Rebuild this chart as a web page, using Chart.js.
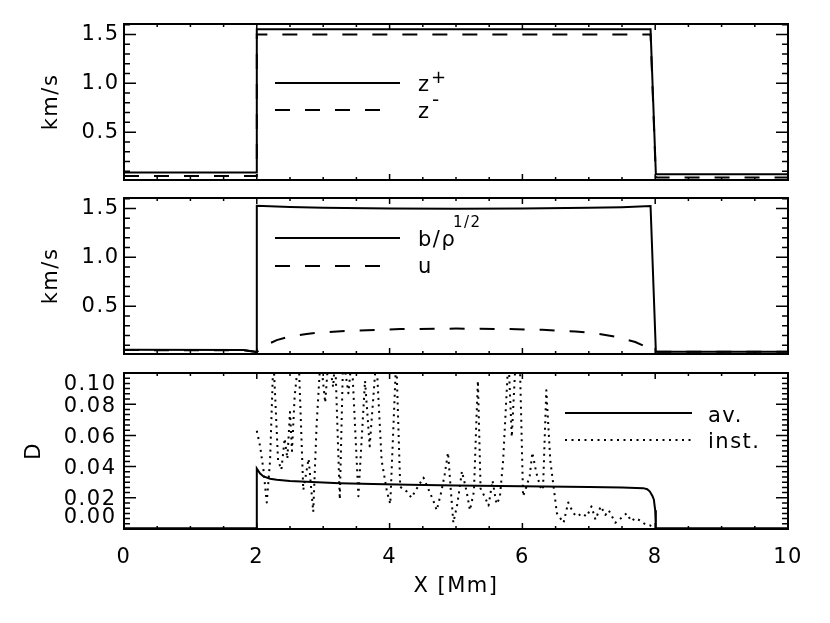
<!DOCTYPE html>
<html>
<head>
<meta charset="utf-8">
<script src="https://cdn.jsdelivr.net/npm/chart.js@4.4.0/dist/chart.umd.min.js"></script>
<style>
  body{margin:0;background:#fff;}
  #wrap{position:relative;width:830px;height:623px;}
  #wrap canvas{position:absolute;left:0;top:0;}
</style>
</head>
<body>
<div id="wrap">
  <canvas id="p1" width="830" height="623"></canvas>
  <canvas id="p2" width="830" height="623"></canvas>
  <canvas id="p3" width="830" height="623"></canvas>
</div>
<script>
// tick labels
const xTicks = [0, 2, 4, 6, 8, 10];
const kmsTicks = [0.5, 1.0, 1.5];
const dTicks = [0.00, 0.02, 0.04, 0.06, 0.08, 0.10];

// panel 1: z+ / z-
const zPlusX  = [0, 2, 2, 7.93, 8.01, 10];
const zPlusY  = [0.087, 0.087, 1.553, 1.553, 0.068, 0.068];
const zMinusX = [0, 2, 2, 7.93, 8.01, 10];
const zMinusY = [0.05, 0.05, 1.50, 1.50, 0.036, 0.036];

// panel 2: b/rho^1/2 and u
const bX = [0, 1.8, 2.0, 2.0, 2.5, 3, 4, 5, 6, 7, 7.5, 7.93, 8.01, 10];
const bY = [0.054, 0.051, 0.03, 1.528, 1.515, 1.507, 1.5, 1.498, 1.5, 1.506, 1.513, 1.525, 0.034, 0.034];
const uX = [0, 1.8, 2.0, 2.08, 2.15, 2.3, 2.5, 2.75, 2.95, 3.4, 4.16, 5.0, 5.8, 6.3, 6.8, 7.1, 7.4, 7.7, 7.9, 8.01, 10];
const uY = [0.05, 0.048, 0.03, 0.07, 0.105, 0.152, 0.19, 0.215, 0.231, 0.247, 0.265, 0.27, 0.265, 0.257, 0.24, 0.222, 0.188, 0.133, 0.073, 0.034, 0.034];

// panel 3: D averaged and instantaneous
const avX = [0, 2, 2, 2.05, 2.1, 2.2, 2.3, 2.5, 2.75, 3.0, 3.25, 3.75, 4.3, 5, 6, 7, 7.5, 7.82, 7.88, 7.92, 7.96, 7.98, 8.0, 8.01, 10];
const avY = [0.0005, 0.0005, 0.0387, 0.0355, 0.0337, 0.0322, 0.0315, 0.0308, 0.0303, 0.0298, 0.0294, 0.0289, 0.0284, 0.0279, 0.0274, 0.0269, 0.0266, 0.0262, 0.0255, 0.024, 0.021, 0.0188, 0.012, 0.0005, 0.0005];
const instX = [2.0, 2.05, 2.1, 2.15, 2.2, 2.25, 2.32, 2.37, 2.42, 2.46, 2.5, 2.53, 2.57, 2.63, 2.7, 2.78, 2.85, 2.9, 2.96, 3.03,
  3.08, 3.15, 3.18, 3.25, 3.3, 3.38, 3.43, 3.53, 3.63, 3.7, 3.8, 3.88, 3.96, 4.01, 4.1, 4.16, 4.26, 4.33, 4.41, 4.51,
  4.58, 4.66, 4.71, 4.78, 4.83, 4.88, 4.92, 4.96, 5.02, 5.09, 5.16, 5.21, 5.27, 5.31, 5.33, 5.37, 5.44, 5.49, 5.55, 5.61,
  5.66, 5.71, 5.79, 5.84, 5.9, 5.96, 6.01, 6.06, 6.11, 6.15, 6.21, 6.27, 6.31, 6.36, 6.42, 6.47, 6.52, 6.57, 6.62, 6.69,
  6.77, 6.83, 6.89, 6.97, 7.04, 7.1, 7.18, 7.25, 7.3, 7.4, 7.46, 7.57, 7.64, 7.7, 7.77, 7.85, 7.92, 7.99];
const instY = [0.063, 0.053, 0.038, 0.017, 0.044, 0.11, 0.044, 0.038, 0.058, 0.045, 0.075, 0.05, 0.085, 0.11, 0.025, 0.045, 0.011, 0.066, 0.11, 0.081,
  0.11, 0.091, 0.11, 0.019, 0.11, 0.087, 0.11, 0.021, 0.095, 0.053, 0.11, 0.044, 0.024, 0.016, 0.11, 0.027, 0.024, 0.02, 0.026, 0.033,
  0.026, 0.018, 0.012, 0.024, 0.035, 0.049, 0.026, 0.004, 0.016, 0.037, 0.024, 0.012, 0.024, 0.073, 0.095, 0.026, 0.02, 0.015, 0.031, 0.016,
  0.02, 0.044, 0.11, 0.059, 0.11, 0.11, 0.021, 0.027, 0.034, 0.049, 0.036, 0.027, 0.025, 0.089, 0.044, 0.027, 0.010, 0.007, 0.004, 0.017,
  0.010, 0.008, 0.010, 0.008, 0.0145, 0.006, 0.0145, 0.009, 0.012, 0.004, 0.006, 0.010, 0.005, 0.007, 0.0055, 0.003, 0.0024, 0.0];

const FONT = "'DejaVu Sans'";
const FS = 21;
Chart.defaults.font.family = FONT;
Chart.defaults.font.size = FS;
Chart.defaults.color = '#000';

const pts = (xs, ys) => xs.map((x, i) => ({x, y: ys[i]}));
function line(label, xs, ys, dash){
  return { label, data: pts(xs, ys), borderColor:'#000', borderWidth:2, borderDash:dash||[],
    pointRadius:0, tension:0, fill:false, borderCapStyle:'butt', borderJoinStyle: dash && dash[0] < 3 ? 'round' : 'miter' };
}

// frame, inward tick marks, legend inside the panel
const frameTicks = {
  id:'frameTicks',
  beforeDraw(chart){ chart.ctx.letterSpacing = '1.5px'; },
  afterDraw(chart, args, o){
    const {ctx, chartArea:a, scales:{x, y}} = chart;
    ctx.save();
    ctx.strokeStyle = '#000'; ctx.fillStyle = '#000';
    ctx.lineWidth = 1.5; ctx.beginPath();
    const isMajor = (list, v) => list.some(t => Math.abs(t - v) < 1e-6);
    for (let i = 0; ; i++){
      const v = x.min + i*o.xMinor; if (v > x.max + 1e-9) break;
      const px = x.getPixelForValue(v), len = isMajor(xTicks, v) ? 6 : 3;
      ctx.moveTo(px, a.bottom); ctx.lineTo(px, a.bottom - len);
      ctx.moveTo(px, a.top); ctx.lineTo(px, a.top + len);
    }
    for (let i = Math.ceil(y.min/o.yMinor - 1e-6); ; i++){
      const v = i*o.yMinor; if (v > y.max + 1e-9) break;
      const py = y.getPixelForValue(v), len = isMajor(o.yMajor, v) ? 12 : 6;
      ctx.moveTo(a.left, py); ctx.lineTo(a.left + len, py);
      ctx.moveTo(a.right, py); ctx.lineTo(a.right - len, py);
    }
    ctx.stroke();
    ctx.lineWidth = 2;
    ctx.strokeRect(a.left, a.top, a.right - a.left, a.bottom - a.top);

    if (o.ownYLabels){
      ctx.font = `${FS}px ${FONT}`; ctx.textAlign = 'right'; ctx.textBaseline = 'middle';
      for (const v of o.yMajor){
        let py = y.getPixelForValue(v) + 2;
        py = Math.min(Math.max(py, a.top + 12), a.bottom - 11);
        ctx.fillText(v.toFixed(2), o.labelRight, py);
      }
    }

    for (const e of o.legend || []){
      const ds = chart.data.datasets[e.ds];
      ctx.save();
      ctx.lineWidth = ds.borderWidth; ctx.setLineDash(ds.borderDash); ctx.lineCap = 'butt';
      ctx.beginPath(); ctx.moveTo(e.x1, e.y); ctx.lineTo(e.x2, e.y); ctx.stroke();
      ctx.restore();
      ctx.textAlign = 'left'; ctx.textBaseline = 'alphabetic';
      for (const [s, size, dx, dy] of e.text){
        ctx.font = `${size}px ${FONT}`;
        ctx.fillText(s, e.tx + dx, e.ty + dy);
      }
    }
    ctx.restore();
  }
};

function makeChart(id, datasets, cfg){
  return new Chart(document.getElementById(id), {
    type:'line',
    data:{ datasets },
    plugins:[frameTicks],
    options:{
      responsive:false, animation:false, devicePixelRatio:1,
      layout:{ padding:{ top:cfg.top, right:42, bottom:cfg.padBottom, left:0 } },
      plugins:{ legend:{display:false}, tooltip:{enabled:false}, frameTicks:cfg.frame },
      scales:{
        x:{ type:'linear', min:0, max:10, display:cfg.showX,
          grid:{display:false, drawTicks:false}, border:{display:false},
          afterBuildTicks:s => { s.ticks = xTicks.map(v => ({value:v})); },
          afterFit:s => { s.height = cfg.xHeight; },
          ticks:{ padding:16, callback:v => String(v) },
          title:{ display:cfg.showX, text:'X [Mm]', padding:{top:0, bottom:24} } },
        y:{ type:'linear', min:cfg.yMin, max:cfg.yMax,
          grid:{display:false, drawTicks:false}, border:{display:false},
          afterBuildTicks:s => { s.ticks = cfg.yTicks.map(v => ({value:v})); },
          afterFit:s => { s.width = 124; },
          ticks:{ display:cfg.yTickLabels, padding:4.5, callback:v => v.toFixed(1) },
          title:{ display:true, text:cfg.yTitle, padding:{top:cfg.titlePad, bottom:0} } }
      }
    }
  });
}

const DASH = [15, 15], DOT = [2, 4.5];

makeChart('p1', [ line('z+', zPlusX, zPlusY), line('z-', zMinusX, zMinusY, DASH) ], {
  top:24, padBottom:443, showX:false, xHeight:0, yMin:0.01, yMax:1.607, yTicks:kmsTicks,
  yTickLabels:true, yTitle:'km/s', titlePad:39,
  frame:{ xMinor:0.5, yMinor:0.1, yMajor:kmsTicks, legend:[
    { ds:0, x1:275, x2:400, y:83, tx:418, ty:91, text:[['z',FS,0,0], ['+',18,13,-8]] },
    { ds:1, x1:275, x2:395, y:110, tx:418, ty:118, text:[['z',FS,0,0], ['-',20,14,-12]] } ] }
});

makeChart('p2', [ line('b/rho^1/2', bX, bY), line('u', uX, uY, DASH) ], {
  top:198, padBottom:269, showX:false, xHeight:0, yMin:0.01, yMax:1.607, yTicks:kmsTicks,
  yTickLabels:true, yTitle:'km/s', titlePad:39,
  frame:{ xMinor:0.5, yMinor:0.1, yMajor:kmsTicks, legend:[
    { ds:0, x1:275, x2:400, y:238, tx:418, ty:246, text:[['b/ρ',FS,0,0], ['1/2',15,35,-19]] },
    { ds:1, x1:275, x2:395, y:266, tx:418, ty:273, text:[['u',FS,0,0]] } ] }
});

makeChart('p3', [ line('av.', avX, avY), line('inst.', instX, instY, DOT) ], {
  top:373, padBottom:0, showX:true, xHeight:94, yMin:0, yMax:0.10, yTicks:dTicks,
  yTickLabels:false, yTitle:'D', titlePad:22,
  frame:{ xMinor:0.5, yMinor:0.02/6, yMajor:dTicks, ownYLabels:true, labelRight:116.5, legend:[
    { ds:0, x1:565, x2:692, y:413, tx:708, ty:422, text:[['av.',FS,0,0]] },
    { ds:1, x1:565, x2:692, y:440, tx:708, ty:448, text:[['inst.',FS,0,0]] } ] }
});
</script>
</body>
</html>
